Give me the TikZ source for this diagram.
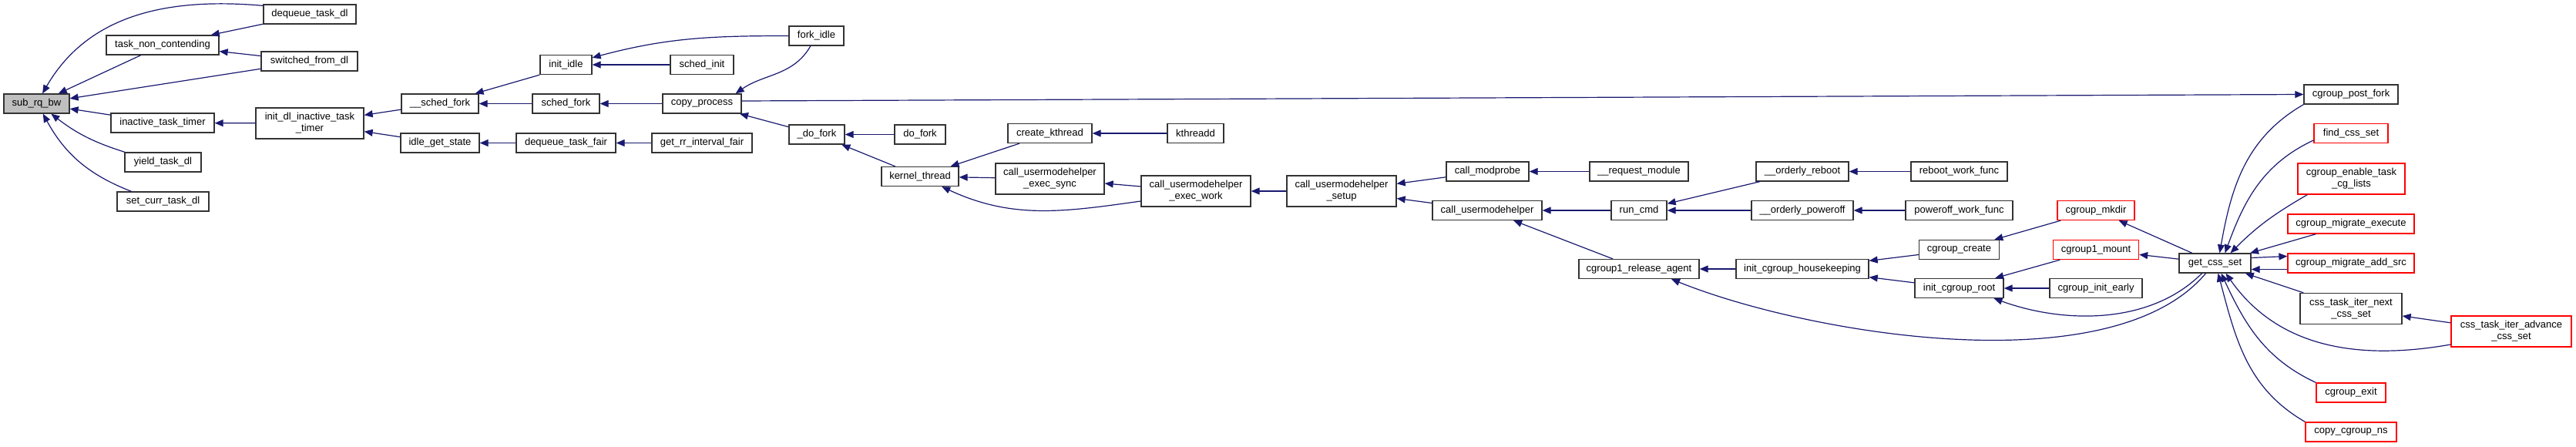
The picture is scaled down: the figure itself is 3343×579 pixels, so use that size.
\documentclass[tikz,border=0pt]{standalone}
\usepackage{fontspec}
\setmainfont{Liberation Sans}
\usetikzlibrary{
    arrows.meta
}
\definecolor{edgeblue}{HTML}{191970}
\definecolor{nodegray}{HTML}{BFBFBF}
\definecolor{nodered}{HTML}{FF0000}
\tikzset{
  fnbox/.style={
    draw=black!80,
    line width=1.3pt,
    rectangle,
    minimum height=25pt,
    inner sep=2pt,
    align=center,
    font=\fontsize{13}{15}\selectfont
  },
  fnboxtwo/.style={
    fnbox,
    minimum height=40pt
  },
  redbox/.style={
    draw=nodered
  },
  callline/.style={
    color=edgeblue,
    line width=1.2pt,
    -{Triangle[length=11pt,width=9pt]}
  }
}

\begin{document}
\begin{tikzpicture}[x=1pt,y=-1pt]
    \useasboundingbox (0,0) rectangle (3343,579);
    %-------------------------
    %sub_rq_bw and its callers
    %-------------------------
    \node[fnbox,fill=nodegray,minimum width=85pt] (subrqbw) at (47.5,134.5) {sub\_rq\_bw};
    \node[fnbox,minimum width=146pt] (tasknon) at (211,58.5) {task\_non\_contending};
    \node[fnbox,minimum width=120pt] (dequeuedl) at (402,18.5) {dequeue\_task\_dl};
    \node[fnbox,minimum width=125pt] (switcheddl) at (401.5,79.5) {switched\_from\_dl};
    \node[fnbox,minimum width=134pt] (inactivetimer) at (211,159.5) {inactive\_task\_timer};
    \node[fnbox,minimum width=99pt] (yielddl) at (211.5,210.5) {yield\_task\_dl};
    \node[fnbox,minimum width=119pt] (setcurrdl) at (211.5,261.5) {set\_curr\_task\_dl};
    \node[fnboxtwo,minimum width=140pt] (initdltimer) at (402,160) {init\_dl\_inactive\_task\\\_timer};

    %-------------------------
    %fork side
    %-------------------------
    \node[fnbox,minimum width=100pt] (schedforku) at (571,134.5) {\_\_sched\_fork};
    \node[fnbox,minimum width=102pt] (idlegetstate) at (571,185.5) {idle\_get\_state};
    \node[fnbox,minimum width=67pt] (initidle) at (734.5,84) {init\_idle};
    \node[fnbox,minimum width=87pt] (schedfork) at (734.5,134.5) {sched\_fork};
    \node[fnbox,minimum width=129pt] (dequeuefair) at (734.5,185.5) {dequeue\_task\_fair};
    \node[fnbox,minimum width=82pt] (schedinit) at (911,84) {sched\_init};
    \node[fnbox,minimum width=102pt] (copyprocess) at (911,134.5) {copy\_process};
    \node[fnbox,minimum width=130pt] (getrrfair) at (911,185.5) {get\_rr\_interval\_fair};
    \node[fnbox,minimum width=71pt] (forkidle) at (1059.5,46.5) {fork\_idle};
    \node[fnbox,minimum width=72pt] (udofork) at (1060,174.5) {\_do\_fork};
    \node[fnbox,minimum width=66pt] (dofork) at (1194,174.5) {do\_fork};
    \node[fnbox,minimum width=100pt] (kernelthread) at (1194,229) {kernel\_thread};
    \node[fnbox,minimum width=109pt] (createkthread) at (1362.5,173) {create\_kthread};
    \node[fnbox,minimum width=73pt] (kthreadd) at (1551.5,173) {kthreadd};
    \node[fnboxtwo,minimum width=141pt] (execsync) at (1362.5,232) {call\_usermodehelper\\\_exec\_sync};
    \node[fnboxtwo,minimum width=142pt] (execwork) at (1552,248) {call\_usermodehelper\\\_exec\_work};

    %-------------------------
    %usermodehelper side
    %-------------------------
    \node[fnboxtwo,minimum width=142pt] (umhsetup) at (1741,248) {call\_usermodehelper\\\_setup};
    \node[fnbox,minimum width=107pt] (modprobe) at (1930.5,222.5) {call\_modprobe};
    \node[fnbox,minimum width=142pt] (umh) at (1930,273) {call\_usermodehelper};
    \node[fnbox,minimum width=128pt] (requestmodule) at (2127,222.5) {\_\_request\_module};
    \node[fnbox,minimum width=72pt] (runcmd) at (2127,273) {run\_cmd};
    \node[fnbox,minimum width=156pt] (releaseagent) at (2127,349) {cgroup1\_release\_agent};
    \node[fnbox,minimum width=120pt] (orderlyreboot) at (2339,222.5) {\_\_orderly\_reboot};
    \node[fnbox,minimum width=132pt] (orderlypoweroff) at (2339,273) {\_\_orderly\_poweroff};
    \node[fnbox,minimum width=172pt] (housekeeping) at (2339,349) {init\_cgroup\_housekeeping};
    \node[fnbox,minimum width=125pt] (rebootwork) at (2542.5,222.5) {reboot\_work\_func};
    \node[fnbox,minimum width=139pt] (poweroffwork) at (2542.5,273) {poweroff\_work\_func};
    \node[fnbox,minimum width=104pt] (cgroupcreate) at (2542.5,324) {cgroup\_create};
    \node[fnbox,minimum width=115pt] (initroot) at (2542.5,374) {init\_cgroup\_root};
    \node[fnbox,redbox,minimum width=100pt] (cgroupmkdir) at (2720,273) {cgroup\_mkdir};
    \node[fnbox,redbox,minimum width=111pt] (cgroupmount) at (2720,324) {cgroup1\_mount};
    \node[fnbox,minimum width=120pt] (initearly) at (2720,374) {cgroup\_init\_early};

    %-------------------------
    %get_css_set and its callers
    %-------------------------
    \node[fnbox,minimum width=93pt] (getcssset) at (2874.5,341.5) {get\_css\_set};
    \node[fnbox,minimum width=122pt] (postfork) at (3051,122.5) {cgroup\_post\_fork};
    \node[fnbox,redbox,minimum width=96pt] (findcssset) at (3051,173) {find\_css\_set};
    \node[fnboxtwo,redbox,minimum width=139pt] (enabletask) at (3051.5,232) {cgroup\_enable\_task\\\_cg\_lists};
    \node[fnbox,redbox,minimum width=164pt] (migrateexec) at (3051,290.5) {cgroup\_migrate\_execute};
    \node[fnbox,redbox,minimum width=164pt] (migrateaddsrc) at (3051,341.5) {cgroup\_migrate\_add\_src};
    \node[fnboxtwo,minimum width=132pt] (iternext) at (3051,400.5) {css\_task\_iter\_next\\\_css\_set};
    \node[fnboxtwo,redbox,minimum width=156pt] (iteradvance) at (3259,430) {css\_task\_iter\_advance\\\_css\_set};
    \node[fnbox,redbox,minimum width=90pt] (cgroupexit) at (3051,509.5) {cgroup\_exit};
    \node[fnbox,redbox,minimum width=118pt] (copycgroupns) at (3051,560.5) {copy\_cgroup\_ns};

    %-------------------------
    %calls
    %-------------------------
    \draw[callline] ([yshift=-2pt]dequeuedl.north west) to[out=175,in=60] (subrqbw);
    \draw[callline] (tasknon) -- (subrqbw);
    \draw[callline] (switcheddl) -- (subrqbw);
    \draw[callline] (inactivetimer) -- (subrqbw);
    \draw[callline] (yielddl) to[bend left=10] (subrqbw);
    \draw[callline] (setcurrdl) to[bend left=20] (subrqbw);
    \draw[callline] (dequeuedl) -- (tasknon);
    \draw[callline] (switcheddl) -- (tasknon);
    \draw[callline] (initdltimer) -- (inactivetimer);
    \draw[callline] (schedforku) -- (initdltimer);
    \draw[callline] (idlegetstate) -- (initdltimer);

    \draw[callline] (initidle.south west) -- (schedforku);
    \draw[callline] (schedfork) -- (schedforku);
    \draw[callline] (dequeuefair) -- (idlegetstate);
    \draw[callline] (getrrfair) -- (dequeuefair);
    \draw[callline] (forkidle) to[out=180,in=15] (initidle);
    \draw[callline] (schedinit) -- (initidle);
    \draw[callline] (copyprocess) -- (schedfork);
    \draw[callline] (forkidle) to[out=-120,in=35] ([xshift=-8pt]copyprocess.north east);
    \draw[callline] (udofork) -- (copyprocess);
    \draw[callline] ([yshift=3.5pt]copyprocess.east) -- (postfork.west);
    \draw[callline] (dofork) -- (udofork);
    \draw[callline] (kernelthread) -- (udofork);
    \draw[callline] (createkthread) -- (kernelthread);
    \draw[callline] (execsync) -- (kernelthread);
    \draw[callline] ([yshift=-13pt]execwork.west) to[out=188,in=-25] (kernelthread);
    \draw[callline] (kthreadd) -- (createkthread);
    \draw[callline] (execwork) -- (execsync);
    \draw[callline] (umhsetup) -- (execwork);

    \draw[callline] (modprobe) -- (umhsetup);
    \draw[callline] (umh) -- (umhsetup);
    \draw[callline] (requestmodule) -- (modprobe);
    \draw[callline] (runcmd) -- (umh);
    \draw[callline] (releaseagent) -- (umh);
    \draw[callline] (orderlyreboot) -- (runcmd);
    \draw[callline] (orderlypoweroff) -- (runcmd);
    \draw[callline] (rebootwork) -- (orderlyreboot);
    \draw[callline] (poweroffwork) -- (orderlypoweroff);
    \draw[callline] (housekeeping) -- (releaseagent);
    \draw[callline] (cgroupcreate) -- (housekeeping);
    \draw[callline] (initroot) -- (housekeeping);
    \draw[callline] (cgroupmkdir) -- (cgroupcreate);
    \draw[callline] (cgroupmount) -- (initroot);
    \draw[callline] (initearly) -- (initroot);

    \draw[callline] ([xshift=-12pt]getcssset.south) to[out=-130,in=-22,looseness=0.7] ([xshift=42pt]releaseagent.south);
    \draw[callline] ([xshift=-17pt]getcssset.south) to[out=-135,in=-20,looseness=0.9] ([xshift=45pt]initroot.south);
    \draw[callline] (getcssset) -- (cgroupmkdir);
    \draw[callline] (getcssset) -- (cgroupmount);
    \draw[callline] (postfork.south west) to[out=-150,in=80] ([xshift=6pt]getcssset.north);
    \draw[callline] ([yshift=-9pt]findcssset.west) to[out=-155,in=70] ([xshift=13pt]getcssset.north);
    \draw[callline] ([xshift=13pt]enabletask.south west) to[out=-150,in=45] ([xshift=20pt]getcssset.north);
    \draw[callline] (migrateexec) -- (getcssset);
    \draw[callline] ([yshift=7pt]getcssset.east) -- ([yshift=9pt]migrateaddsrc.west);
    \draw[callline] ([yshift=-8pt]migrateaddsrc.west) -- ([yshift=-8pt]getcssset.east);
    \draw[callline] (iternext) -- (getcssset);
    \draw[callline] ([yshift=-17pt]iteradvance.west) to[out=190,in=-55] ([xshift=14pt]getcssset.south);
    \draw[callline] (iteradvance) -- (iternext);
    \draw[callline] (cgroupexit.north west) to[out=155,in=-65] ([xshift=8pt]getcssset.south);
    \draw[callline] (copycgroupns.north west) to[out=150,in=-75] ([xshift=4pt]getcssset.south);

\end{tikzpicture}
\end{document}
